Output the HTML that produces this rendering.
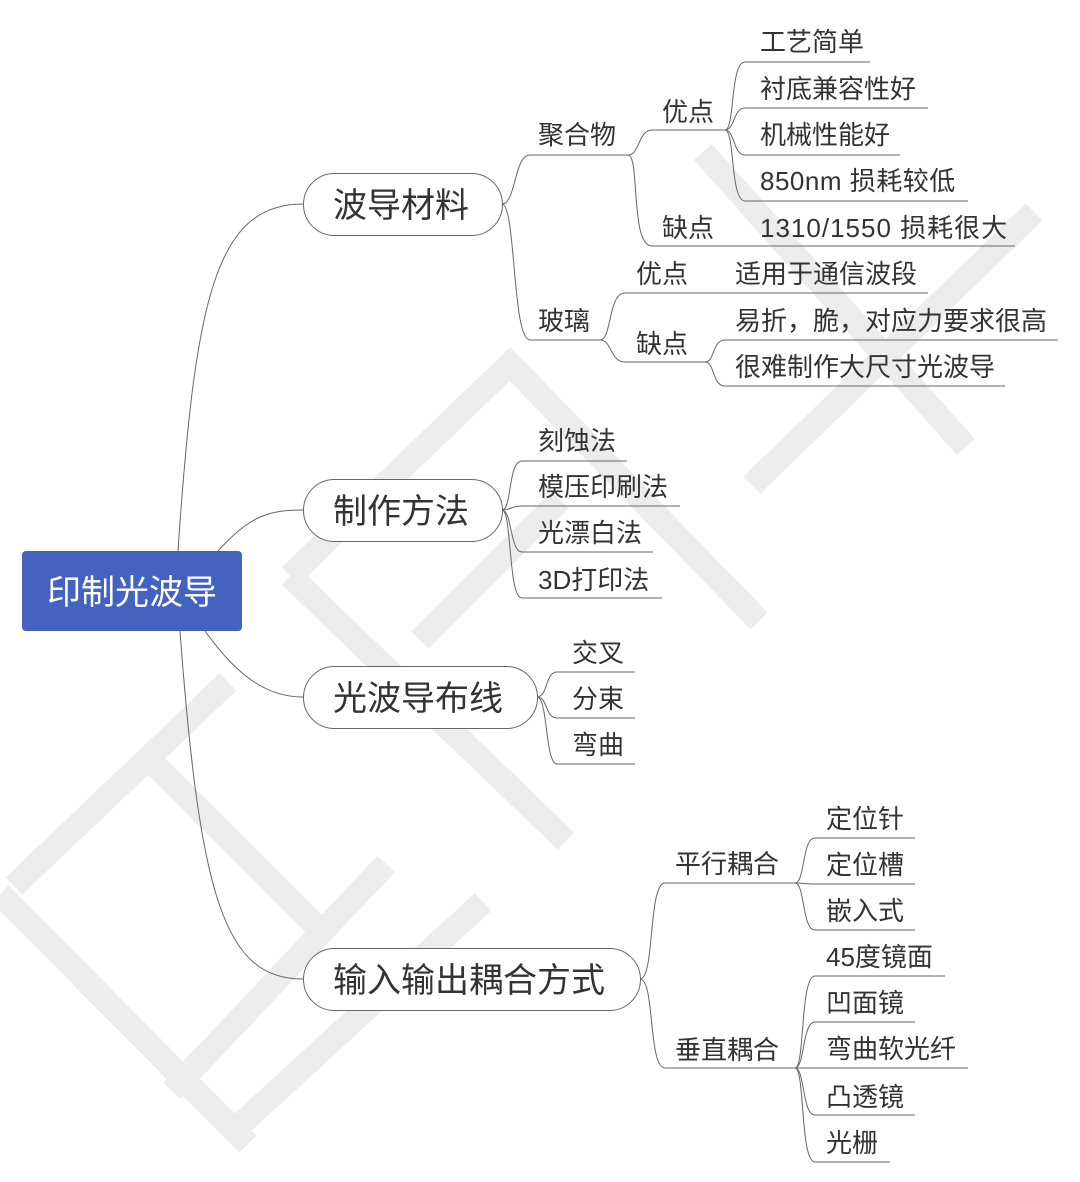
<!DOCTYPE html>
<html><head><meta charset="utf-8"><style>
html,body{margin:0;padding:0;background:#fff;}
#c{position:relative;width:1080px;height:1182px;overflow:hidden;font-family:"Liberation Sans","Noto Sans CJK SC",sans-serif;color:#333;}
svg{position:absolute;left:0;top:0;}
.t{position:absolute;font-size:26px;line-height:26px;white-space:nowrap;}
.l1{position:absolute;font-size:34px;line-height:34px;white-space:nowrap;}
</style></head><body><div id="c">
<svg width="1080" height="1182">
<g stroke="#ececec" stroke-width="24" fill="none" stroke-linecap="butt">
<path d="M0,894 L248,1144"/>
<path d="M14,886 L228,682"/>
<path d="M290,576 L510,364 L759,621"/>
<path d="M290,576 L566,841"/>
<path d="M703,152 L966,447"/>
<path d="M1034,212 L752,485"/>
<path d="M386,864 L172,1091"/>
<path d="M483,902 L228,1136"/>
<path d="M420,640 L560,500"/>
<path d="M150,760 L330,940"/>
</g>
<g stroke="#666" stroke-width="1" fill="none">
<path d="M178,551 C195,300 215,204 303,204"/>
<path d="M218,551 C250,515 270,510 303,510"/>
<path d="M205,631 C240,680 270,697 303,697"/>
<path d="M180,631 C200,900 225,979 303,979"/>
<path d="M502,204 C516,204 514,155 530,155 L628,155"/>
<path d="M502,204 C516,204 512,340 530,340 L600,340"/>
<path d="M628,155 C640,155 638,130 652,130 L725,130"/>
<path d="M628,155 C640,155 630,246 652,246 L1015,246"/>
<path d="M725,130 C735,130 730,62 745,62 L870,62"/>
<path d="M725,130 C735,130 733,108 745,108 L928,108"/>
<path d="M725,130 C735,130 733,155 745,155 L900,155"/>
<path d="M725,130 C735,130 730,201 745,201 L968,201"/>
<path d="M600,340 C612,340 608,293 625,293 L928,293"/>
<path d="M600,340 C612,340 610,362 625,362 L705,362"/>
<path d="M705,362 C715,362 712,340 725,340 L1058,340"/>
<path d="M705,362 C715,362 712,386 725,386 L1005,386"/>
<path d="M502,510 C512,510 508,461 522,461 L627,461"/>
<path d="M502,510 C512,510 510,506 522,506 L680,506"/>
<path d="M502,510 C512,510 510,552 522,552 L653,552"/>
<path d="M502,510 C512,510 508,598 522,598 L662,598"/>
<path d="M537,697 C548,697 545,672 557,672 L635,672"/>
<path d="M537,697 C548,697 545,718 557,718 L635,718"/>
<path d="M537,697 C548,697 545,764 557,764 L635,764"/>
<path d="M640,979 C655,979 648,883 665,883 L795,883"/>
<path d="M640,979 C655,979 648,1068 665,1068 L795,1068"/>
<path d="M795,883 C805,883 802,838 815,838 L915,838"/>
<path d="M795,883 C805,883 803,884 815,884 L915,884"/>
<path d="M795,883 C805,883 802,930 815,930 L915,930"/>
<path d="M795,1068 C805,1068 800,976 815,976 L945,976"/>
<path d="M795,1068 C805,1068 802,1022 815,1022 L915,1022"/>
<path d="M795,1068 C805,1068 803,1068 815,1068 L968,1068"/>
<path d="M795,1068 C805,1068 802,1115 815,1115 L915,1115"/>
<path d="M795,1068 C805,1068 800,1162 815,1162 L890,1162"/>
</g>
<g stroke="#666" stroke-width="1" fill="#fff">
<rect x="303.5" y="173.5" width="199" height="62" rx="31"/>
<rect x="303.5" y="479.5" width="199" height="62" rx="31"/>
<rect x="303.5" y="666.5" width="234" height="62" rx="31"/>
<rect x="303.5" y="948.5" width="337" height="62" rx="31"/>
</g>
<rect x="22" y="551" width="220" height="80" rx="4" fill="#4462c0"/>
</svg>
<div class="l1" style="left:47px;top:576px;color:#fff;">印制光波导</div>
<div class="l1" style="left:333px;top:189px;">波导材料</div>
<div class="l1" style="left:333px;top:495px;">制作方法</div>
<div class="l1" style="left:333px;top:682px;">光波导布线</div>
<div class="l1" style="left:333px;top:964px;">输入输出耦合方式</div>

<div class="t" style="left:538px;top:122px;">聚合物</div>
<div class="t" style="left:538px;top:308px;">玻璃</div>
<div class="t" style="left:662px;top:99px;">优点</div>
<div class="t" style="left:662px;top:215px;">缺点</div>
<div class="t" style="left:760px;top:29px;">工艺简单</div>
<div class="t" style="left:760px;top:76px;">衬底兼容性好</div>
<div class="t" style="left:760px;top:122px;">机械性能好</div>
<div class="t" style="left:760px;top:168px;letter-spacing:0.5px;">850nm 损耗较低</div>
<div class="t" style="left:760px;top:215px;letter-spacing:1px;">1310/1550 损耗很大</div>
<div class="t" style="left:636px;top:261px;">优点</div>
<div class="t" style="left:636px;top:331px;">缺点</div>
<div class="t" style="left:735px;top:261px;">适用于通信波段</div>
<div class="t" style="left:735px;top:308px;">易折，脆，对应力要求很高</div>
<div class="t" style="left:735px;top:354px;">很难制作大尺寸光波导</div>

<div class="t" style="left:538px;top:428px;">刻蚀法</div>
<div class="t" style="left:538px;top:474px;">模压印刷法</div>
<div class="t" style="left:538px;top:520px;">光漂白法</div>
<div class="t" style="left:538px;top:567px;">3D打印法</div>

<div class="t" style="left:572px;top:640px;">交叉</div>
<div class="t" style="left:572px;top:686px;">分束</div>
<div class="t" style="left:572px;top:732px;">弯曲</div>

<div class="t" style="left:675px;top:851px;">平行耦合</div>
<div class="t" style="left:675px;top:1037px;">垂直耦合</div>
<div class="t" style="left:826px;top:806px;">定位针</div>
<div class="t" style="left:826px;top:852px;">定位槽</div>
<div class="t" style="left:826px;top:898px;">嵌入式</div>
<div class="t" style="left:826px;top:944px;">45度镜面</div>
<div class="t" style="left:826px;top:990px;">凹面镜</div>
<div class="t" style="left:826px;top:1036px;">弯曲软光纤</div>
<div class="t" style="left:826px;top:1084px;">凸透镜</div>
<div class="t" style="left:826px;top:1130px;">光栅</div>
</div></body></html>
